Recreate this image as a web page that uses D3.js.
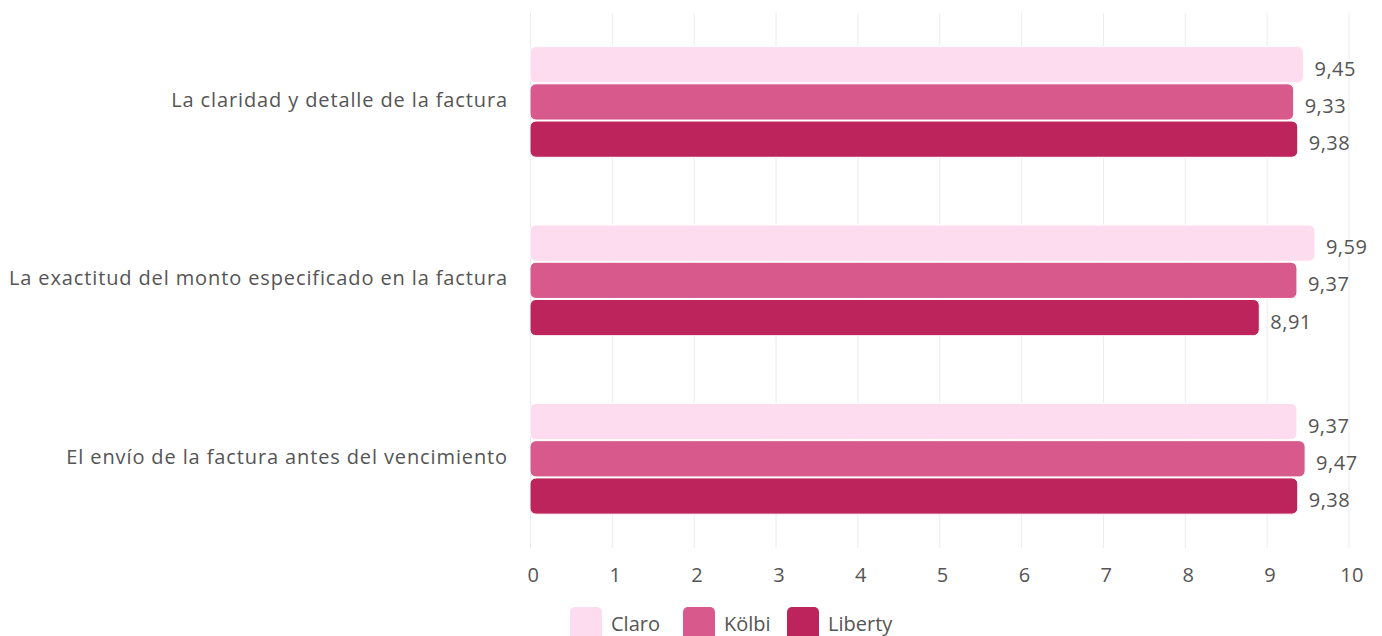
<!DOCTYPE html>
<html>
<head>
<meta charset="utf-8">
<script src="https://cdn.jsdelivr.net/npm/d3@7"></script>
<style>
  body { margin: 0; background: #fff; }
  text { font-family: "Open Sans", sans-serif; fill: #555; }
</style>
</head>
<body>
<div id="chart"></div>
<script>
const categories = [
  "La claridad y detalle de la factura",
  "La exactitud del monto especificado en la factura",
  "El envío de la factura antes del vencimiento"
];
const seriesNames = ["Claro", "Kölbi", "Liberty"];
const claro = [9.45, 9.59, 9.37];
const kolbi = [9.33, 9.37, 9.47];
const liberty = [9.38, 8.91, 9.38];
const xTicks = [0, 1, 2, 3, 4, 5, 6, 7, 8, 9, 10];
const colors = ["#fedcf0", "#d8598b", "#bc245b"];

const width = 1382, height = 636;
const margin = { top: 12.7, right: 33.5, bottom: 88, left: 530 };

const svg = d3.select("#chart").append("svg")
  .attr("width", width)
  .attr("height", height);

const x = d3.scaleLinear()
  .domain([0, 10])
  .range([margin.left, width - margin.right]);

const y = d3.scaleBand()
  .domain(categories)
  .range([margin.top, height - margin.bottom])
  .paddingInner(0.374)
  .paddingOuter(0.187);

const ySub = d3.scaleBand()
  .domain(seriesNames)
  .range([0, y.bandwidth()]);

// grid lines
svg.append("g")
  .selectAll("line")
  .data(xTicks)
  .join("line")
  .attr("x1", d => x(d) + 0.5)
  .attr("x2", d => x(d) + 0.5)
  .attr("y1", margin.top)
  .attr("y2", height - margin.bottom)
  .attr("stroke", "#ececec")
  .attr("stroke-width", 1);

// x axis labels
const xAxis = svg.append("g")
  .attr("transform", "translate(3," + (height - margin.bottom) + ")")
  .call(d3.axisBottom(x).tickValues(xTicks).tickSize(0).tickPadding(20));
xAxis.select(".domain").remove();
xAxis.selectAll("text")
  .style("font-size", "20px")
  .style("font-family", "'Open Sans', sans-serif")
  .style("letter-spacing", "0.4px")
  .attr("fill", "#555");

// category labels
svg.append("g")
  .selectAll("text")
  .data(categories)
  .join("text")
  .attr("x", margin.left - 22)
  .attr("y", d => y(d) + y.bandwidth() / 2)
  .attr("dy", "0.25em")
  .attr("text-anchor", "end")
  .style("font-size", "20px")
  .style("letter-spacing", "0.88px")
  .text(d => d);

const seriesValues = [claro, kolbi, liberty];
const rows = [];
categories.forEach((c, i) => {
  seriesNames.forEach((s, j) => {
    rows.push({ cat: c, name: s, value: seriesValues[j][i], color: colors[j] });
  });
});

// bars
svg.append("g")
  .selectAll("rect")
  .data(rows)
  .join("rect")
  .attr("x", x(0))
  .attr("y", d => y(d.cat) + ySub(d.name) + 0.5)
  .attr("width", d => x(d.value) - x(0))
  .attr("height", ySub.bandwidth() - 1)
  .attr("rx", 6)
  .attr("fill", d => d.color)
  .attr("stroke", "#fff")
  .attr("stroke-width", 1);

// value labels
svg.append("g")
  .selectAll("text")
  .data(rows)
  .join("text")
  .attr("x", d => x(d.value) + 11)
  .attr("y", d => y(d.cat) + ySub(d.name) + ySub.bandwidth() / 2)
  .attr("dy", "0.55em")
  .style("font-size", "20px")
  .style("letter-spacing", "0.5px")
  .text(d => d.value.toFixed(2).replace(".", ","));

// legend
const legendX = [570, 683, 787];
const legend = svg.append("g")
  .selectAll("g")
  .data(seriesNames)
  .join("g")
  .attr("transform", (d, i) => "translate(" + legendX[i] + ",607)");
legend.append("rect")
  .attr("width", 32)
  .attr("height", 34)
  .attr("rx", 5)
  .attr("fill", (d, i) => colors[i]);
legend.append("text")
  .attr("x", 41)
  .attr("y", 24)
  .style("font-size", "20px")
  .text(d => d);
</script>
</body>
</html>
